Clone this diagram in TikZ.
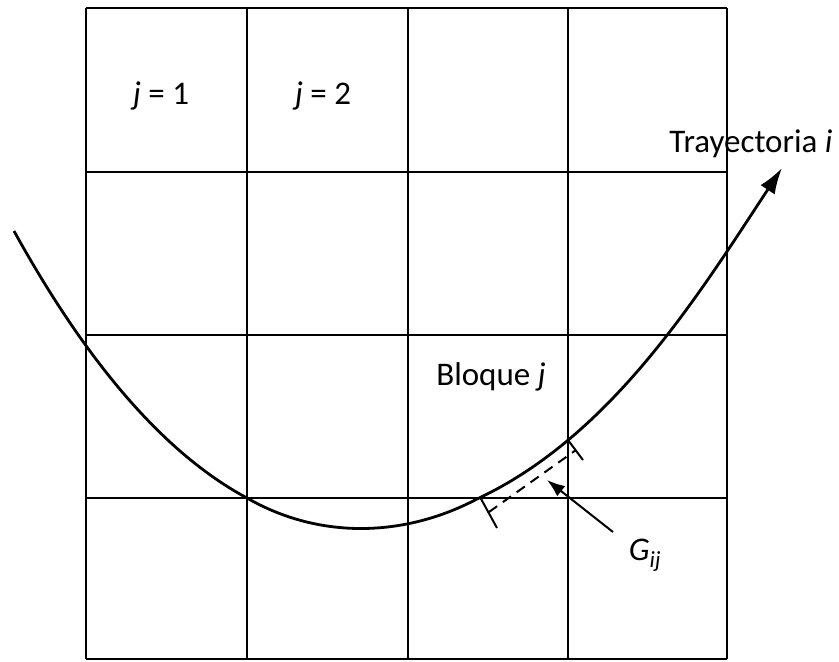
\documentclass[tikz,border=0pt]{standalone}
\usepackage{fontspec}
\setmainfont{Carlito}
\usetikzlibrary{arrows.meta}
\tikzset{
  gridline/.style={line width=2pt, black},
  curveline/.style={line width=2.8pt, black},
  lbl/.style={inner sep=0pt, font=\fontsize{33}{38}\selectfont},
  tickline/.style={line width=2pt},
  dashline/.style={line width=2pt, dash pattern=on 10pt off 7pt},
}
\begin{document}
\begin{tikzpicture}[x=1pt,y=-1pt]
\useasboundingbox (0,0) rectangle (839,662);
% grid
\foreach \x in {86,247,408,568,727} \draw[gridline] (\x,8) -- (\x,659);
\foreach \y in {8,172,335,498,659} \draw[gridline] (86,\y) -- (727,\y);
% curve
\coordinate (c0) at (14,231);
\coordinate (c1) at (247,498);
\coordinate (c2) at (477,499);
\coordinate (tip) at (782,168);
\draw[curveline, -{Latex[length=26pt,width=17pt]}]
  (c0) .. controls (72,336) and (150,446) .. (c1)
       .. controls (320,540) and (405,537) .. (c2)
       .. controls (612,436) and (699,294) .. (tip);
% interval marks
\coordinate (t1a) at (480,497);
\coordinate (t1b) at (497,528);
\coordinate (t2a) at (568,440);
\coordinate (t2b) at (583,460);
\coordinate (d1) at (489,512);
\coordinate (d2) at (576,450);
\draw[tickline] (t1a) -- (t1b);
\draw[tickline] (t2a) -- (t2b);
\draw[dashline] (d1) -- (d2);
% G_ij pointer
\coordinate (gs) at (613,532);
\coordinate (gt) at (547,480);
\draw[tickline, -{Latex[length=18pt,width=13pt]}] (gs) -- (gt);
% labels
\node[lbl] (j1) at (161,96) {\textit{j} = 1};
\node[lbl] (j2) at (323,96) {\textit{j} = 2};
\node[lbl, anchor=base] (tray) at (751,152) {Trayectoria \textit{i}};
\node[lbl, anchor=base] (bloq) at (491,385) {Bloque \textit{j}};
\node[lbl, anchor=base] (g) at (645,560) {\textit{G\textsubscript{ij}}};
\end{tikzpicture}
\end{document}
